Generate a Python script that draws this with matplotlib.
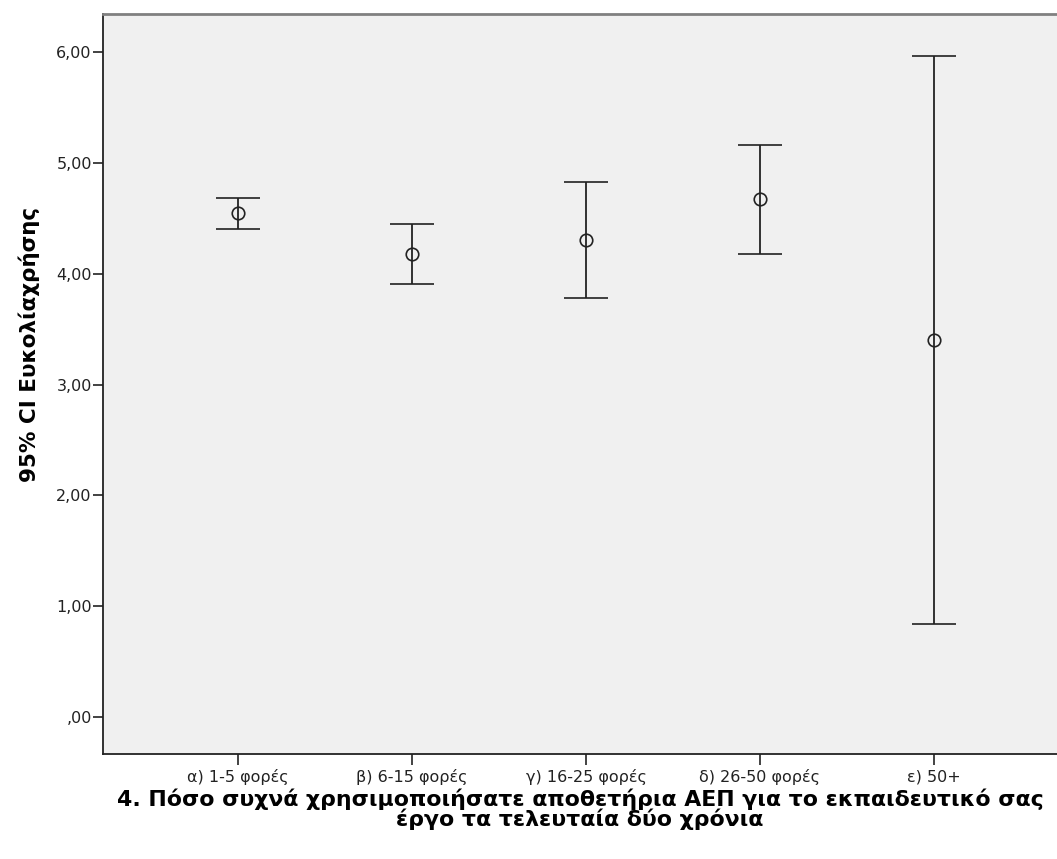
import matplotlib
matplotlib.use("Agg")
import matplotlib.pyplot as plt
from matplotlib.ticker import FuncFormatter

plt.rcParams["font.family"] = ["DejaVu Sans"]

categories = ["α) 1-5 φορές", "β) 6-15 φορές", "γ) 16-25 φορές", "δ) 26-50 φορές", "ε) 50+"]
means = [4.55, 4.18, 4.30, 4.67, 3.40]
lower = [4.40, 3.91, 3.78, 4.18, 0.84]
upper = [4.68, 4.45, 4.83, 5.16, 5.96]
yticks = [0, 1, 2, 3, 4, 5, 6]

fig = plt.figure(figsize=(10.57, 8.59), dpi=100)
ax = fig.add_axes([0.0974, 0.1222, 0.9026, 0.8615])
ax.set_facecolor("#f0f0f0")

x = list(range(len(categories)))
err = [[m - l for m, l in zip(means, lower)], [u - m for m, u in zip(means, upper)]]
ax.errorbar(x, means, yerr=err, fmt="o", mfc="none", mec="#222222", mew=1.2, ms=9,
            ecolor="#222222", elinewidth=1.3, capsize=15.5, capthick=1.3)

ax.set_xlim(-0.776, 4.707)
ax.set_ylim(-0.334, 6.343)
ax.set_xticks(x)
ax.set_xticklabels(categories)
ax.set_yticks(yticks)
ax.yaxis.set_major_formatter(FuncFormatter(lambda v, p: ",00" if v == 0 else f"{int(v)},00"))
ax.tick_params(axis="y", length=7, width=1.2, labelsize=11.5, pad=1, color="#222222",
               labelcolor="#222222")
ax.tick_params(axis="x", length=8, width=1.2, labelsize=11.5, pad=3, color="#222222",
               labelcolor="#222222")

ax.spines["right"].set_visible(False)
ax.spines["left"].set_linewidth(1.3)
ax.spines["bottom"].set_linewidth(1.3)
ax.spines["left"].set_color("#222222")
ax.spines["bottom"].set_color("#222222")
ax.spines["top"].set_color("#808080")
ax.spines["top"].set_linewidth(2)

ax.set_ylabel("95% CI Ευκολίαχρήσης", fontsize=15.5, fontweight="bold")
ax.yaxis.set_label_coords(-0.066, 0.553)
ax.set_xlabel("4. Πόσο συχνά χρησιμοποιήσατε αποθετήρια ΑΕΠ για το εκπαιδευτικό σας\nέργο τα τελευταία δύο χρόνια",
              fontsize=15.8, fontweight="bold", linespacing=0.92)
ax.xaxis.set_label_coords(0.5, -0.047)

fig.savefig("out.png", dpi=100)
